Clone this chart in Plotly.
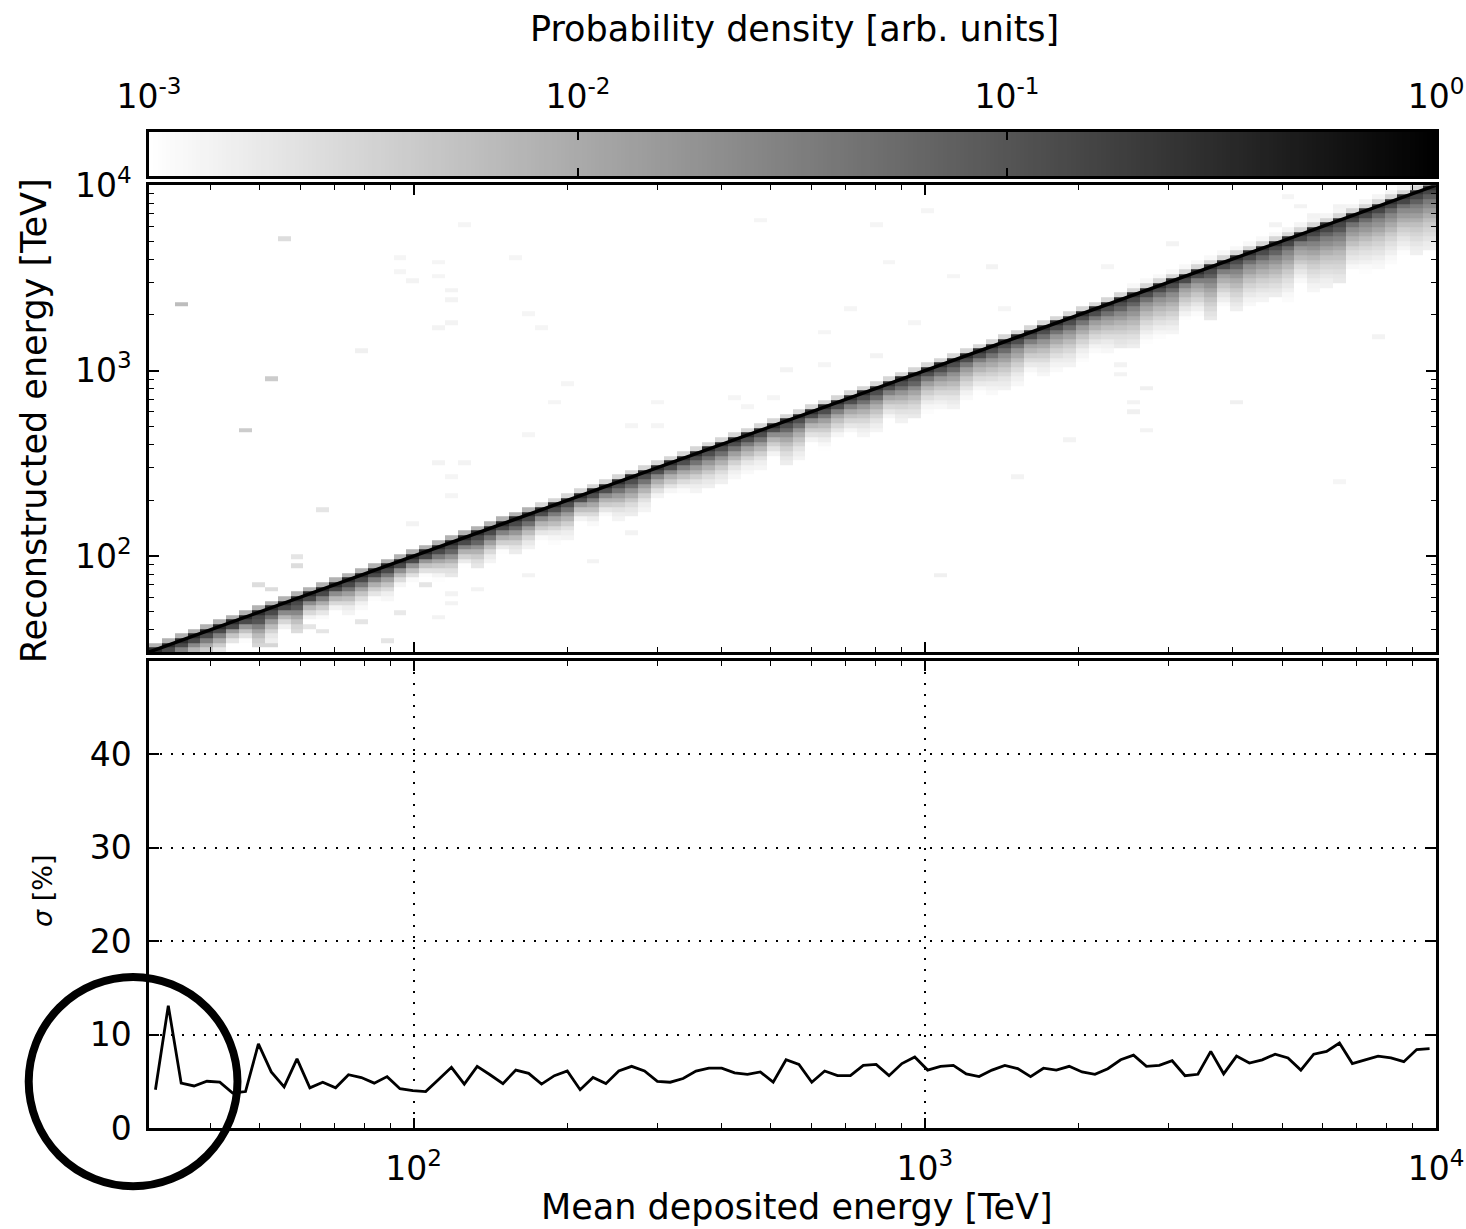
import numpy as np
import plotly.graph_objects as go

# ---------------- data ----------------
log_lo, log_hi = 1.4824, 4.0          # axis range (log10 TeV)
n_bins = 100

# resolution per deposited-energy bin [%]
sigma_pct = [
    4.1, 13.1, 4.8, 4.5, 5.0, 4.9, 3.75, 3.9, 9.0, 6.0,
    4.4, 7.4, 4.3, 4.9, 4.3, 5.7, 5.4, 4.8, 5.5, 4.2,
    4.0, 3.9, 5.2, 6.5, 4.7, 6.6, 5.7, 4.75, 6.2, 5.85,
    4.7, 5.6, 6.1, 4.1, 5.4, 4.75, 6.1, 6.6, 6.1, 5.0,
    4.9, 5.3, 6.1, 6.4, 6.4, 5.9, 5.75, 6.0, 4.9, 7.3,
    6.8, 4.9, 6.1, 5.6, 5.6, 6.7, 6.8, 5.6, 6.9, 7.6,
    6.2, 6.6, 6.7, 5.8, 5.5, 6.2, 6.7, 6.35, 5.5, 6.4,
    6.2, 6.6, 6.0, 5.75, 6.35, 7.3, 7.8, 6.6, 6.7, 7.2,
    5.6, 5.75, 8.2, 5.8, 7.7, 6.95, 7.3, 7.9, 7.5, 6.2,
    7.9, 8.2, 9.1, 6.9, 7.3, 7.7, 7.5, 7.1, 8.4, 8.5,
]

# probability density vs. offset (in bins) below the diagonal, per energy range
tail_offsets = [-2, -1, 0, 1, 2, 3, 4, 5, 6, 7, 8, 9, 10, 11, 12, 13]
profile_seg0 = [0, 0.008, 0.30, 0.14, 0.04, 0.012, 0.005, 0.0025, 0.0015, 0.0012,
                0, 0, 0, 0, 0, 0]
profile_seg1 = [0, 0.003, 0.28, 0.12, 0.035, 0.012, 0.006, 0.003, 0.0018, 0.0013,
                0.0011, 0, 0, 0, 0, 0]
profile_seg2 = [0, 0.003, 0.27, 0.12, 0.04, 0.014, 0.007, 0.004, 0.0025, 0.0017,
                0.0013, 0.0011, 0, 0, 0, 0]
profile_seg3 = [0, 0.003, 0.27, 0.125, 0.045, 0.017, 0.010, 0.0055, 0.0035, 0.0024,
                0.0017, 0.0014, 0.0012, 0, 0, 0]
profile_seg4 = [0.0012, 0.003, 0.27, 0.13, 0.05, 0.021, 0.013, 0.0075, 0.005, 0.0033,
                0.0024, 0.0018, 0.0014, 0.0012, 0, 0]
profile_seg5 = [0.0013, 0.003, 0.26, 0.15, 0.06, 0.028, 0.018, 0.011, 0.007, 0.0045,
                0.0033, 0.0025, 0.002, 0.0016, 0.0013, 0.0012]
segment_start = [0, 30, 48, 62, 76, 88]

# isolated cells (x bin, y bin, density)
specks = [
    (24, 91, 0.0013), (10, 88, 0.0025), (19, 84, 0.0013), (22, 83, 0.0013),
    (28, 84, 0.0013), (19, 81, 0.0013), (22, 80, 0.0013), (20, 79, 0.0014),
    (23, 77, 0.0014), (23, 75, 0.0014), (2, 74, 0.006), (29, 72, 0.0013),
    (23, 70, 0.0014), (22, 69, 0.0014), (30, 69, 0.0013), (16, 64, 0.0015),
    (9, 58, 0.004), (7, 47, 0.004), (13, 30, 0.002), (11, 20, 0.002),
    (61, 16, 0.0015),
    (95, 67, 0.0014), (75, 61, 0.0014), (75, 59, 0.0014), (77, 56, 0.0015),
    (76, 53, 0.0014), (76, 51, 0.0015), (77, 47, 0.0014), (84, 53, 0.0015),
    (92, 36, 0.0013), (88, 97, 0.0013), (79, 87, 0.0014), (74, 82, 0.0013),
    (87, 91, 0.0014), (89, 95, 0.0014), (90, 93, 0.0014), (92, 95, 0.0014),
    (60, 94, 0.0013), (47, 92, 0.0013), (56, 91, 0.0013), (57, 83, 0.0013),
    (65, 82, 0.0014), (62, 80, 0.0013), (54, 73, 0.0013), (66, 73, 0.0013),
    (52, 68, 0.0013), (59, 70, 0.0013), (56, 63, 0.0014), (52, 61, 0.0013),
    (49, 60, 0.0014), (67, 37, 0.0014), (71, 45, 0.0014),
    (32, 57, 0.0013), (31, 53, 0.0013), (39, 53, 0.0013), (29, 46, 0.0013),
    (37, 48, 0.0013), (39, 48, 0.0013), (22, 40, 0.0014), (24, 40, 0.0014),
    (23, 37, 0.0013), (23, 33, 0.0013), (45, 54, 0.0013), (48, 54, 0.0013),
    (46, 52, 0.0013), (20, 27, 0.0014), (34, 19, 0.0014), (29, 16, 0.0014),
    (23, 12, 0.0014), (23, 10, 0.0014), (22, 7, 0.0014), (19, 8, 0.0014),
    (37, 25, 0.0014), (25, 13, 0.0014),
    (8, 14, 0.0025), (11, 18, 0.0025), (9, 13, 0.0025), (8, 1, 0.003),
    (9, 1, 0.003), (18, 2, 0.002), (19, 8, 0.0018), (16, 6, 0.002),
    (13, 4, 0.002), (12, 5, 0.002), (21, 14, 0.002), (17, 12, 0.002),
    (5, 1, 0.003),
]

cbar_ticks = [1e-3, 1e-2, 1e-1, 1.0]
cbar_text = ["10<sup>-3</sup>", "10<sup>-2</sup>", "10<sup>-1</sup>", "10<sup>0</sup>"]
e_ticks = [1e2, 1e3, 1e4]
e_text = ["10<sup>2</sup>", "10<sup>3</sup>", "10<sup>4</sup>"]
sigma_ticks = [0, 10, 20, 30, 40]

# ---------------- build ----------------
edges_log = np.linspace(log_lo, log_hi, n_bins + 1)
edges = 10 ** edges_log
centers = 10 ** ((edges_log[:-1] + edges_log[1:]) / 2)

profiles = [profile_seg0, profile_seg1, profile_seg2, profile_seg3,
            profile_seg4, profile_seg5]
seg_of = [max(s for s in range(len(segment_start)) if i >= segment_start[s])
          for i in range(n_bins)]
seg_mean = [np.mean([sigma_pct[i] for i in range(n_bins) if seg_of[i] == s])
            for s in range(len(segment_start))]

z = np.full((n_bins, n_bins), np.nan)
for i in range(n_bins):
    prof = profiles[seg_of[i]]
    # wider resolution in a column -> heavier tail in that column
    f = float(np.clip((sigma_pct[i] / seg_mean[seg_of[i]]) ** 2.5, 0.4, 2.5))
    for k, v in zip(tail_offsets, prof):
        yb = i - k
        if v > 0 and 0 <= yb < n_bins:
            val = v * f if k >= 2 else v
            if val >= 1e-3:
                z[yb, i] = val
for xb, yb, v in specks:
    if np.isnan(z[yb, xb]) or z[yb, xb] < v:
        z[yb, xb] = v
zlog = np.log10(z)

minor_vals = [m * 10 ** d for d in (1, 2, 3) for m in range(2, 10)]

grey_r = [[0, "#ffffff"], [1, "#000000"]]
FONT = "DejaVu Sans"
FS = 33      # tick labels
FT = 35      # axis titles

cb_log = np.linspace(-3, 0, 301)
cb_edges = 10 ** cb_log
cb_z = [list((cb_log[:-1] + cb_log[1:]) / 2)]

fig = go.Figure()
fig.add_trace(go.Heatmap(x=edges, y=edges, z=zlog, zmin=-3, zmax=0,
                         colorscale=grey_r, showscale=False,
                         xaxis="x", yaxis="y", hoverongaps=False))
fig.add_trace(go.Scatter(x=[edges[0], edges[-1]], y=[edges[0], edges[-1]],
                         mode="lines", line=dict(color="black", width=3.4),
                         xaxis="x", yaxis="y", showlegend=False))
fig.add_trace(go.Scatter(x=centers, y=sigma_pct, mode="lines",
                         line=dict(color="black", width=2.8),
                         xaxis="x2", yaxis="y2", showlegend=False))
fig.add_trace(go.Heatmap(x=cb_edges, y=[0, 1], z=cb_z, zmin=-3, zmax=0,
                         colorscale=grey_r, showscale=False,
                         xaxis="x3", yaxis="y3"))

# plot area in pixels
L, R, T, B = 149.25, 1435.75, 131.5, 1127.75
W, H = R - L, B - T
def dom(top_px, bot_px):
    return [(B - bot_px) / H, (B - top_px) / H]
def px(x):
    return (x - L) / W
def py(y):
    return (B - y) / H

common = dict(showline=True, linecolor="black", linewidth=2.5, mirror="allticks",
              ticks="inside", ticklen=10, tickwidth=1.5, tickcolor="black",
              tickfont=dict(family=FONT, size=FS, color="black"), zeroline=False,
              automargin=False)
minor = dict(tickvals=minor_vals, ticks="inside", ticklen=5, tickwidth=1.2,
             tickcolor="black", showgrid=False)

fig.update_layout(
    template="none",
    width=1466, height=1229,
    margin=dict(l=L, r=1466 - R, t=T, b=1229 - B, autoexpand=False),
    paper_bgcolor="white", plot_bgcolor="white",
    showlegend=False,
    xaxis=dict(common, domain=[0, 1], anchor="y", type="log",
               range=[log_lo, log_hi], tickmode="array", tickvals=e_ticks,
               showticklabels=False, showgrid=False, minor=minor),
    yaxis=dict(common, domain=dom(184.75, 651.75), anchor="x", type="log",
               range=[log_lo, log_hi], tickmode="array", tickvals=e_ticks,
               ticktext=e_text, showgrid=False, minor=minor, ticklabelstandoff=8),
    xaxis2=dict(common, domain=[0, 1], anchor="y2", type="log",
                range=[log_lo, log_hi], tickmode="array", tickvals=e_ticks,
                ticktext=e_text, showgrid=True, gridcolor="black",
                griddash="2px,9px", gridwidth=1.5, minor=minor,
                ticklabelstandoff=10),
    yaxis2=dict(common, domain=dom(660.5, 1127.75), anchor="x2", range=[0, 50],
                tickmode="array", tickvals=sigma_ticks, showgrid=True,
                gridcolor="black", griddash="2px,9px", gridwidth=1.5,
                ticklabelstandoff=8),
    xaxis3=dict(common, domain=[0, 1], anchor="y3", type="log", side="top",
                range=[-3, 0], tickmode="array", tickvals=cbar_ticks,
                ticktext=cbar_text, showgrid=False, ticklen=8,
                ticklabelstandoff=8),
    yaxis3=dict(showline=True, linecolor="black", linewidth=2.5, mirror=True,
                domain=dom(131.5, 175.5), anchor="x3", range=[0, 1],
                showticklabels=False, ticks="", showgrid=False, zeroline=False,
                automargin=False),
    annotations=[
        dict(text="Probability density [arb. units]", xref="paper", yref="paper",
             x=px(794), y=py(28), showarrow=False,
             font=dict(family=FONT, size=FT, color="black"),
             xanchor="center", yanchor="middle"),
        dict(text="Mean deposited energy [TeV]", xref="paper", yref="paper",
             x=px(797), y=py(1207), showarrow=False,
             font=dict(family=FONT, size=FT, color="black"),
             xanchor="center", yanchor="middle"),
        dict(text="Reconstructed energy [TeV]", xref="paper", yref="paper",
             x=px(35), y=py(420), showarrow=False,
             textangle=-90, font=dict(family=FONT, size=FT, color="black"),
             xanchor="center", yanchor="middle"),
        dict(text="<i>σ</i> [%]", xref="paper", yref="paper",
             x=px(43), y=py(891), showarrow=False,
             textangle=-90, font=dict(family=FONT, size=27, color="black"),
             xanchor="center", yanchor="middle"),
    ],
    shapes=[
        dict(type="circle", xref="paper", yref="paper",
             x0=px(29), x1=px(237.7), y0=py(1186), y1=py(976.7),
             line=dict(color="black", width=8)),
    ],
)

fig.write_html("out.html")
